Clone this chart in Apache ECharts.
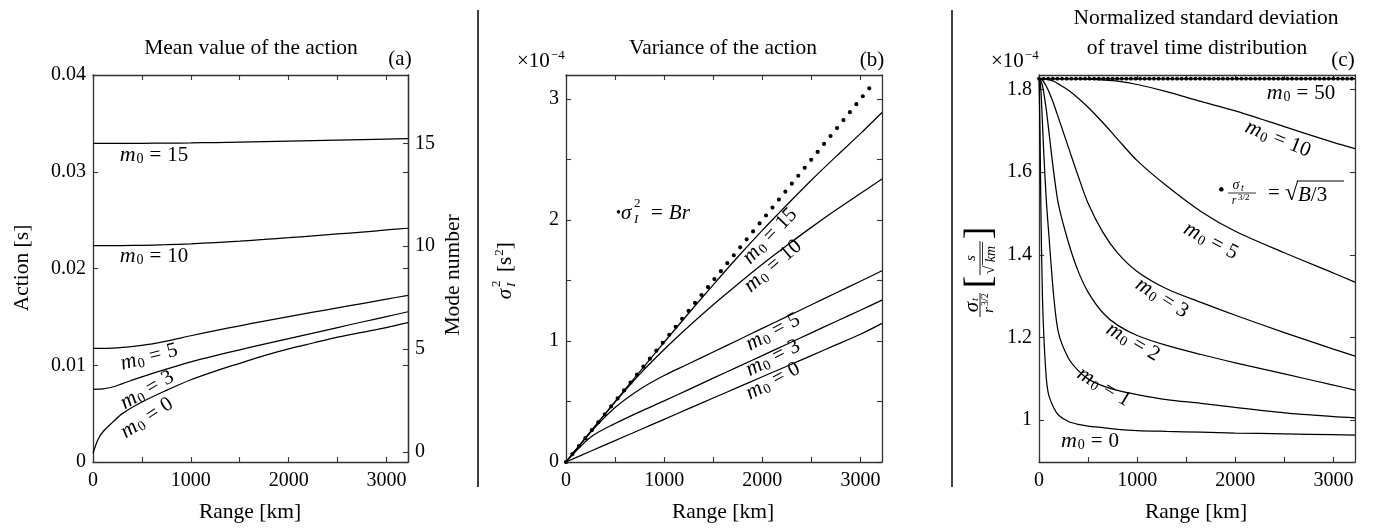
<!DOCTYPE html>
<html>
<head>
<meta charset="utf-8">
<script src="https://cdn.jsdelivr.net/npm/echarts@6/dist/echarts.min.js"></script>
<style>html,body{margin:0;padding:0;background:#fff}#chart{width:1373px;height:528px}</style>
</head>
<body>
<div id="chart"></div>
<script>
// ---------------- data ----------------
const X_MAX = 3220;
const xTickVals = [0, 500, 1000, 1500, 2000, 2500, 3000];
const xLabelVals = [0, 1000, 2000, 3000];

// (a) Mean value of the action [s]
const aRange = [0, 50, 100, 200, 300, 500, 750, 1000, 1250, 1500, 1750, 2000, 2250, 2500, 2750, 3000, 3220];
const a_m0_0  = [0.0009, 0.0023, 0.0031, 0.0041, 0.0050, 0.0062, 0.0074, 0.0085, 0.0094, 0.0102, 0.0110, 0.0117, 0.0123, 0.0129, 0.0134, 0.0139, 0.0144];
const a_m0_3  = [0.00751, 0.00752, 0.00755, 0.00775, 0.00810, 0.00880, 0.00960, 0.01035, 0.01100, 0.01160, 0.01218, 0.01276, 0.01333, 0.01390, 0.01447, 0.01503, 0.01553];
const a_m0_5  = [0.01175, 0.01175, 0.01175, 0.01178, 0.01185, 0.01205, 0.01250, 0.01305, 0.01358, 0.01408, 0.01456, 0.01502, 0.01548, 0.01593, 0.01638, 0.01683, 0.01723];
const a_m0_10 = [0.02236, 0.02236, 0.02236, 0.02236, 0.02237, 0.02240, 0.02246, 0.02255, 0.02268, 0.02283, 0.02300, 0.02318, 0.02338, 0.02357, 0.02377, 0.02398, 0.02416];
const a_m0_15 = [0.03294, 0.03294, 0.03294, 0.03294, 0.03294, 0.03294, 0.03296, 0.03298, 0.03302, 0.03306, 0.03311, 0.03316, 0.03321, 0.03327, 0.03333, 0.03338, 0.03342];
const aYTicks = [0, 0.01, 0.02, 0.03, 0.04];
const modeTicks = [0, 5, 10, 15];

// (b) Variance of the action [x1e-4 s^2]
const bRange = [0, 250, 500, 750, 1000, 1250, 1500, 1750, 2000, 2250, 2500, 2750, 3000, 3220];
const b_m0_0  = [0, 0.089, 0.177, 0.265, 0.353, 0.441, 0.529, 0.617, 0.705, 0.792, 0.880, 0.968, 1.056, 1.146];
const b_m0_3  = [0, 0.205, 0.318, 0.415, 0.505, 0.599, 0.693, 0.787, 0.880, 0.974, 1.068, 1.162, 1.255, 1.338];
const b_m0_5  = [0, 0.245, 0.450, 0.600, 0.715, 0.812, 0.910, 1.007, 1.105, 1.202, 1.300, 1.397, 1.495, 1.581];
const b_m0_10 = [0, 0.250, 0.495, 0.725, 0.930, 1.120, 1.300, 1.470, 1.635, 1.790, 1.940, 2.083, 2.220, 2.340];
const b_m0_15 = [0, 0.250, 0.500, 0.745, 0.990, 1.230, 1.465, 1.695, 1.915, 2.125, 2.330, 2.525, 2.715, 2.890];
const bBrLine = [[0, 0], [3155, 3.155]];          // sigma_I^2 = B r (dotted)
const bYTicks = [0, 0.5, 1, 1.5, 2, 2.5, 3];
const bYLabels = [0, 1, 2, 3];

// (c) Normalized standard deviation [x1e-4 s/sqrt(km)]
const cRange = [0, 10, 20, 35, 50, 75, 100, 150, 200, 300, 400, 500, 650, 800, 1000, 1300, 1650, 2000, 2500, 3000, 3220];
const c_m0_0  = [1.826, 1.700, 1.500, 1.300, 1.200, 1.100, 1.060, 1.030, 1.012, 0.997, 0.990, 0.986, 0.982, 0.978, 0.975, 0.973, 0.971, 0.969, 0.967, 0.965, 0.964];
const c_m0_1  = [1.826, 1.820, 1.795, 1.720, 1.640, 1.530, 1.450, 1.300, 1.210, 1.150, 1.120, 1.100, 1.083, 1.072, 1.062, 1.050, 1.041, 1.031, 1.018, 1.009, 1.006];
const c_m0_2  = [1.826, 1.825, 1.820, 1.810, 1.790, 1.750, 1.700, 1.600, 1.520, 1.430, 1.360, 1.310, 1.260, 1.230, 1.205, 1.181, 1.159, 1.139, 1.112, 1.085, 1.073];
const c_m0_3  = [1.826, 1.826, 1.825, 1.822, 1.818, 1.808, 1.795, 1.765, 1.730, 1.660, 1.590, 1.525, 1.455, 1.405, 1.360, 1.318, 1.285, 1.254, 1.212, 1.172, 1.155];
const c_m0_5  = [1.826, 1.826, 1.826, 1.826, 1.826, 1.825, 1.824, 1.820, 1.813, 1.798, 1.779, 1.757, 1.720, 1.680, 1.628, 1.567, 1.505, 1.457, 1.405, 1.356, 1.334];
const c_m0_10 = [1.826, 1.826, 1.826, 1.826, 1.826, 1.826, 1.826, 1.826, 1.826, 1.826, 1.826, 1.825, 1.823, 1.820, 1.812, 1.795, 1.771, 1.748, 1.710, 1.672, 1.657];
const c_m0_50 = [1.826, 1.826, 1.826, 1.826, 1.826, 1.826, 1.826, 1.826, 1.826, 1.826, 1.826, 1.826, 1.826, 1.826, 1.826, 1.826, 1.826, 1.826, 1.826, 1.826, 1.826];
const cSqrtB3 = [[0, 1.826], [3220, 1.826]];     // sqrt(B/3) (dotted)
const cYTicks = [1, 1.2, 1.4, 1.6, 1.8];

// ---------------- styling ----------------
const FONT = "'Liberation Serif', 'Times New Roman', serif";
const AX = '#333';
const zip = (xs, ys) => xs.map((x, i) => [x, ys[i]]);

function xAxisPair(gi) {
  const base = {
    gridIndex: gi, type: 'value', min: 0, max: X_MAX,
    axisLine: { show: true, onZero: false, lineStyle: { color: AX, width: 1.3 } },
    axisTick: { show: true, inside: true, length: 5, customValues: xTickVals, lineStyle: { color: AX, width: 1.1 } },
    splitLine: { show: false }
  };
  return [
    Object.assign({}, base, { position: 'bottom',
      axisLabel: { customValues: xLabelVals, margin: 9, fontFamily: FONT, fontSize: 20, color: '#000', formatter: v => String(v) } }),
    Object.assign({}, base, { position: 'top', axisLabel: { show: false } })
  ];
}
function yAxis(gi, pos, min, max, ticks, labels, fmt) {
  return {
    gridIndex: gi, type: 'value', position: pos, min: min, max: max,
    axisLine: { show: true, onZero: false, lineStyle: { color: AX, width: 1.3 } },
    axisTick: { show: true, inside: true, length: 5, customValues: ticks, lineStyle: { color: AX, width: 1.1 } },
    axisLabel: labels ? { customValues: labels, margin: 7, fontFamily: FONT, fontSize: 20, color: '#000', formatter: fmt } : { show: false },
    splitLine: { show: false }
  };
}
function curve(xi, yi, data, extra) {
  return Object.assign({
    type: 'line', xAxisIndex: xi, yAxisIndex: yi, data: data,
    showSymbol: false, symbol: 'none', smooth: 0.3, clip: true, silent: true,
    lineStyle: { color: '#000', width: 1.25 }
  }, extra || {});
}

const RICH = {
  m: { fontFamily: FONT, fontStyle: 'italic', fontSize: 22, color: '#000' },
  s: { fontFamily: FONT, fontSize: 14, padding: [9, 0, 0, 1], color: '#000' },
  e: { fontFamily: FONT, fontSize: 21, padding: [0, 6, 0, 6], color: '#000' },
  t: { fontFamily: FONT, fontSize: 21, color: '#000' },
  g: { fontFamily: FONT, fontStyle: 'italic', fontSize: 21, color: '#000' },
  d: { fontFamily: FONT, fontSize: 14, color: '#000' },
  D: { fontFamily: FONT, fontSize: 19, color: '#000' },
  sp: { fontFamily: FONT, fontSize: 13, padding: [0, 0, 10, 1], color: '#000' }
};
function txt(x, y, text, opts) {
  opts = opts || {};
  const align = opts.align || 'center';
  return {
    type: 'text', x: x, y: y, rotation: (opts.rot || 0) * Math.PI / 180, z: 100,
    style: {
      text: text, rich: RICH, fill: '#000',
      font: (opts.italic ? 'italic ' : '') + (opts.size || 21) + 'px ' + FONT,
      align: align, verticalAlign: 'middle', textAlign: align, textVerticalAlign: 'middle'
    }
  };
}
const mlab = n => '{m|m}{s|0}{e|=}{t|' + n + '}';

// annotation texts (layout only)
const graphics = [
  // separators
  { type: 'line', shape: { x1: 478, y1: 10, x2: 478, y2: 487 }, style: { stroke: '#000', lineWidth: 1.5 } },
  { type: 'line', shape: { x1: 952, y1: 10, x2: 952, y2: 487 }, style: { stroke: '#000', lineWidth: 1.5 } },
  // titles
  txt(251, 48, 'Mean value of the action', { size: 21.5 }),
  txt(400, 59, '(a)', { size: 21 }),
  txt(723, 48, 'Variance of the action', { size: 21.5 }),
  txt(872, 60, '(b)', { size: 21 }),
  txt(1206, 18, 'Normalized standard deviation', { size: 21.5 }),
  txt(1197, 48, 'of travel time distribution', { size: 21.5 }),
  txt(1343, 60, '(c)', { size: 21 }),
  txt(517, 61, '{t|×10}{sp|−4}', { align: 'left' }),
  txt(991, 61, '{t|×10}{sp|−4}', { align: 'left' }),
  // axis titles
  txt(250, 512, 'Range [km]', { size: 21.5 }),
  txt(723, 512, 'Range [km]', { size: 21.5 }),
  txt(1196, 512, 'Range [km]', { size: 21.5 }),
  txt(22, 268, 'Action [s]', { size: 21.5, rot: 90 }),
  txt(453, 275, 'Mode number', { size: 21.5, rot: 90 }),
  // (b) y title sigma_I^2 [s^2]
  { type: 'group', x: 505, y: 274, rotation: Math.PI / 2, children: [
    txt(-20, 0, '{g|σ}'),
    txt(-13, 7, 'I', { size: 13, italic: true, align: 'left' }),
    txt(-13, -8, '2', { size: 13, align: 'left' }),
    txt(2, 0, '{t|[s}{sp|2}{t|]}', { align: 'left' })
  ] },
  // (c) y title  sigma_t / r^{3/2} [ s / sqrt(km) ]
  { type: 'group', x: 980, y: 273, rotation: Math.PI / 2, children: [
    txt(-34, -8, '{g|σ}', { }),
    txt(-28, -5, 't', { size: 11, italic: true, align: 'left' }),
    { type: 'line', shape: { x1: -44, y1: 0, x2: -20, y2: 0 }, style: { stroke: '#000', lineWidth: 0.9 } },
    txt(-37, 9, 'r', { size: 14, italic: true }),
    txt(-33, 5, '3/2', { size: 10, align: 'left' }),
    txt(-9, 0, '[', { size: 38 }),
    txt(15, -9, 's', { size: 15, italic: true }),
    { type: 'line', shape: { x1: -2, y1: 0, x2: 32, y2: 0 }, style: { stroke: '#000', lineWidth: 0.9 } },
    txt(3, 10, '√', { size: 15 }),
    { type: 'line', shape: { x1: 8, y1: 2.5, x2: 31, y2: 2.5 }, style: { stroke: '#000', lineWidth: 0.8 } },
    txt(19, 11, 'km', { size: 14, italic: true }),
    txt(40, 0, ']', { size: 38 })
  ] },
  // (a) curve labels
  txt(154, 155, mlab(15)),
  txt(154, 256, mlab(10)),
  txt(149, 357, mlab(5), { rot: 14 }),
  txt(147, 390, mlab(3), { rot: 30 }),
  txt(147, 418, mlab(0), { rot: 33 }),
  // (b) curve labels
  txt(770, 236, mlab(15), { rot: 46 }),
  txt(773, 266, mlab(10), { rot: 41 }),
  txt(773, 332, mlab(5), { rot: 28 }),
  txt(773, 358, mlab(3), { rot: 27 }),
  txt(773, 381, mlab(0), { rot: 28 }),
  txt(616, 213, '{d|•}{g|σ}', { align: 'left' }),
  txt(634, 220, 'I', { size: 13, italic: true, align: 'left' }),
  txt(634, 204, '2', { size: 13, align: 'left' }),
  txt(645, 213, '{e|=}{g|Br}', { align: 'left' }),
  // (c) curve labels
  txt(1301, 93, mlab(50)),
  txt(1278, 139, mlab(10), { rot: -22 }),
  txt(1211, 241, mlab(5), { rot: -28 }),
  txt(1162, 298, mlab(3), { rot: -32 }),
  txt(1133, 342, mlab(2), { rot: -30 }),
  txt(1104, 387, mlab(1), { rot: -31 }),
  txt(1090, 441, mlab(0)),
  // (c) sqrt(B/3) annotation
  txt(1218, 191, '{D|•}', { align: 'left' }),
  txt(1236, 185, 'σ', { size: 14, italic: true }),
  txt(1241, 188, 't', { size: 10, italic: true, align: 'left' }),
  { type: 'line', shape: { x1: 1228, y1: 193, x2: 1256, y2: 193 }, style: { stroke: '#000', lineWidth: 0.8 } },
  txt(1234, 201, 'r', { size: 12, italic: true }),
  txt(1238, 198, '3/2', { size: 9, align: 'left' }),
  txt(1274, 193, '=', { size: 21 }),
  txt(1285, 194, '√', { size: 24, align: 'left' }),
  { type: 'line', shape: { x1: 1297, y1: 181, x2: 1344, y2: 181 }, style: { stroke: '#000', lineWidth: 1 } },
  txt(1298, 195, '{g|B}{t|/3}', { align: 'left' })
];

const option = {
  animation: false,
  backgroundColor: '#fff',
  grid: [
    { left: 93, top: 75, width: 315, height: 387 },
    { left: 566, top: 75, width: 316, height: 387 },
    { left: 1039, top: 75, width: 316, height: 387 }
  ],
  xAxis: [].concat(xAxisPair(0), xAxisPair(1), xAxisPair(2)),
  yAxis: [
    yAxis(0, 'left', 0, 0.04, aYTicks, aYTicks, v => v === 0 ? '0' : v.toFixed(2)),
    yAxis(0, 'right', 0, 0.04, aYTicks, null),
    yAxis(0, 'right', -0.49, 18.32, modeTicks, modeTicks, v => String(v)),
    yAxis(1, 'left', 0, 3.2, bYTicks, bYLabels, v => String(v)),
    yAxis(1, 'right', 0, 3.2, bYTicks, null),
    yAxis(2, 'left', 0.899, 1.835, cYTicks, cYTicks, v => v === 1 ? '1' : v.toFixed(1)),
    yAxis(2, 'right', 0.899, 1.835, cYTicks, null)
  ],
  series: [
    curve(0, 0, zip(aRange, a_m0_0)),
    curve(0, 0, zip(aRange, a_m0_3)),
    curve(0, 0, zip(aRange, a_m0_5)),
    curve(0, 0, zip(aRange, a_m0_10)),
    curve(0, 0, zip(aRange, a_m0_15)),
    curve(2, 3, zip(bRange, b_m0_0)),
    curve(2, 3, zip(bRange, b_m0_3)),
    curve(2, 3, zip(bRange, b_m0_5)),
    curve(2, 3, zip(bRange, b_m0_10)),
    curve(2, 3, zip(bRange, b_m0_15)),
    curve(2, 3, bBrLine, { smooth: false, lineStyle: { color: '#000', width: 4.2, type: [0, 10.24], cap: 'round' } }),
    curve(4, 5, zip(cRange, c_m0_0)),
    curve(4, 5, zip(cRange, c_m0_1)),
    curve(4, 5, zip(cRange, c_m0_2)),
    curve(4, 5, zip(cRange, c_m0_3)),
    curve(4, 5, zip(cRange, c_m0_5)),
    curve(4, 5, zip(cRange, c_m0_10)),
    curve(4, 5, zip(cRange, c_m0_50), { smooth: false, lineStyle: { color: '#000', width: 1.6 } }),
    curve(4, 5, cSqrtB3, { smooth: false, lineStyle: { color: '#000', width: 3.8, type: [0, 4.6], cap: 'round' } })
  ],
  graphic: graphics
};
const chart = echarts.init(document.getElementById('chart'), null, { renderer: 'canvas' });
chart.setOption(option);
</script>
</body>
</html>
